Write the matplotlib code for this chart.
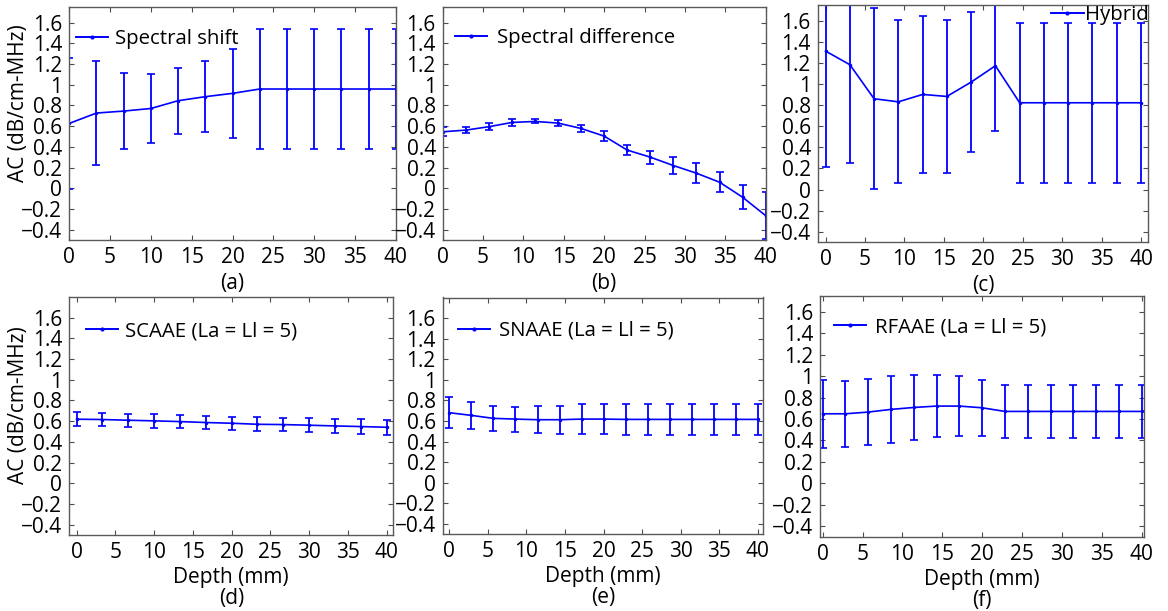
import matplotlib
matplotlib.use("Agg")
import matplotlib.pyplot as plt
from matplotlib.lines import Line2D

plt.rcParams['font.family'] = ['Open Sans', 'DejaVu Sans']

# ---------------- data ----------------
depth13 = [0, 3.33, 6.67, 10, 13.33, 16.67, 20, 23.33, 26.67, 30, 33.33, 36.67, 40]
depth14 = [0, 3.08, 6.15, 9.23, 12.31, 15.38, 18.46, 21.54, 24.62, 27.69, 30.77, 33.85, 36.92, 40]
depth15 = [0, 2.86, 5.71, 8.57, 11.43, 14.29, 17.14, 20, 22.86, 25.71, 28.57, 31.43, 34.29, 37.14, 40]

shift_mean = [0.626, 0.726, 0.745, 0.770, 0.845, 0.884, 0.916, 0.958, 0.958, 0.958, 0.958, 0.958, 0.958]
shift_err = [0.63, 0.50, 0.37, 0.335, 0.32, 0.345, 0.43, 0.58, 0.58, 0.58, 0.58, 0.58, 0.58]

diff_mean = [0.545, 0.561, 0.594, 0.635, 0.645, 0.629, 0.577, 0.503, 0.368, 0.300, 0.219, 0.145, 0.058, -0.087, -0.265]
diff_err = [0.045, 0.030, 0.032, 0.030, 0.020, 0.025, 0.030, 0.045, 0.052, 0.063, 0.080, 0.098, 0.097, 0.115, 0.225]

hybrid_mean = [1.313, 1.184, 0.861, 0.832, 0.902, 0.883, 1.019, 1.174, 0.823, 0.823, 0.823, 0.823, 0.823, 0.823]
hybrid_err = [1.098, 0.934, 0.86, 0.773, 0.744, 0.728, 0.665, 0.62, 0.757, 0.757, 0.757, 0.757, 0.757, 0.757]

scaae_mean = [0.619, 0.616, 0.609, 0.603, 0.596, 0.587, 0.580, 0.570, 0.567, 0.561, 0.554, 0.548, 0.541]
scaae_err = [0.065, 0.065, 0.065, 0.065, 0.065, 0.065, 0.065, 0.066, 0.066, 0.067, 0.068, 0.069, 0.07]

snaae_mean = [0.681, 0.655, 0.626, 0.619, 0.613, 0.613, 0.619, 0.619, 0.616, 0.616, 0.616, 0.616, 0.616, 0.616, 0.616]
snaae_err = [0.152, 0.130, 0.120, 0.121, 0.130, 0.138, 0.144, 0.149, 0.152, 0.152, 0.152, 0.152, 0.152, 0.152, 0.152]

rfaae_mean = [0.649, 0.649, 0.665, 0.690, 0.708, 0.721, 0.721, 0.705, 0.671, 0.671, 0.671, 0.671, 0.671, 0.671, 0.671]
rfaae_err = [0.32, 0.31, 0.309, 0.31, 0.302, 0.287, 0.277, 0.263, 0.245, 0.245, 0.245, 0.245, 0.245, 0.245, 0.245]

labels = ["Spectral shift", "Spectral difference", "Hybrid",
          "SCAAE (La = Ll = 5)", "SNAAE (La = Ll = 5)", "RFAAE (La = Ll = 5)"]
panel_tags = ["(a)", "(b)", "(c)", "(d)", "(e)", "(f)"]
yticks = [-0.4, -0.2, 0, 0.2, 0.4, 0.6, 0.8, 1, 1.2, 1.4, 1.6]
ytick_labels = ["\u22120.4", "\u22120.2", "0", "0.2", "0.4", "0.6", "0.8", "1", "1.2", "1.4", "1.6"]
xticks = [0, 5, 10, 15, 20, 25, 30, 35, 40]

series = [
    (depth13, shift_mean, shift_err),
    (depth15, diff_mean, diff_err),
    (depth14, hybrid_mean, hybrid_err),
    (depth13, scaae_mean, scaae_err),
    (depth15, snaae_mean, snaae_err),
    (depth15, rfaae_mean, rfaae_err),
]

W, H = 1168, 611
# axes pixel boxes: left, right, top, bottom
boxes = [
    (69.3, 395.7, 7, 240),
    (442.7, 765.7, 7, 240),
    (817.7, 1148.3, 5, 242.3),
    (69.3, 393.3, 297, 535),
    (442.7, 763.3, 297.5, 534.3),
    (820, 1144.3, 296, 536.7),
]
xlims = [(0, 40), (0, 40), (-1.0, 40.93), (-0.95, 40.86), (-0.86, 40.7), (-0.33, 40.33)]
ylims = [(-0.5, 1.75), (-0.5, 1.75), (-0.5, 1.75), (-0.5, 1.8), (-0.5, 1.8), (-0.5, 1.75)]
# legend anchors (axes fraction) and text pads
leg_anchor = [(0.0205, 0.863), (0.038, 0.867), (1.0, 1 - 10 / 237),
              (0.0515, 0.857), (0.048, 0.859), (0.043, 0.871)]
leg_pad = [0.34, 0.5, 0.05, 0.34, 0.45, 0.45]
ylabel_y = {0: 0.586, 3: 0.546}

fig = plt.figure(figsize=(W / 100, H / 100), dpi=100)

blue = (0, 0, 1)
capblue = '#2a7fff'
FS = 15
LFS = 14.7

for i, ((x, m, e), box) in enumerate(zip(series, boxes)):
    l, r, t, b = box
    ax = fig.add_axes([l / W, 1 - b / H, (r - l) / W, (b - t) / H])
    cont = ax.errorbar(x, m, yerr=e, color=blue, ecolor=blue, lw=1.2, elinewidth=1.3,
                       capsize=3, capthick=1.2, marker='.', markersize=3)
    for cl in cont[1]:
        cl.set_color(capblue)
    ax.set_xlim(*xlims[i])
    ax.set_ylim(*ylims[i])
    ax.set_yticks(yticks)
    ax.set_yticklabels(ytick_labels)
    ax.set_xticks(xticks)
    ax.tick_params(direction='in', length=3.5, width=0.8, color='0.3',
                   top=True, right=True, labelsize=FS, pad=5)
    for sp in ax.spines.values():
        sp.set_color('0.35')
        sp.set_linewidth(1.0)
    if i < 3:
        ax.set_xlabel(panel_tags[i], fontsize=FS, labelpad=3.5)
    else:
        ax.set_xlabel("Depth (mm)\n" + panel_tags[i], fontsize=FS, labelpad=3, linespacing=1.0)
    if i in (0, 3):
        ax.set_ylabel("AC (dB/cm-MHz)", fontsize=FS)
        ax.yaxis.set_label_coords((29 - l) / (r - l), ylabel_y[i])
    handle = Line2D([], [], color=blue, lw=1.4, marker='.', markersize=4)
    if i == 2:
        ax.legend([handle], [labels[i]], loc='center right',
                  bbox_to_anchor=leg_anchor[i], frameon=False,
                  fontsize=LFS, handlelength=1.6, handletextpad=leg_pad[i],
                  borderpad=0, borderaxespad=0)
    else:
        ax.legend([handle], [labels[i]], loc='center left', bbox_to_anchor=leg_anchor[i],
                  frameon=False, fontsize=LFS, handlelength=1.57,
                  handletextpad=leg_pad[i], borderpad=0, borderaxespad=0)

fig.savefig("out.png", dpi=100)
